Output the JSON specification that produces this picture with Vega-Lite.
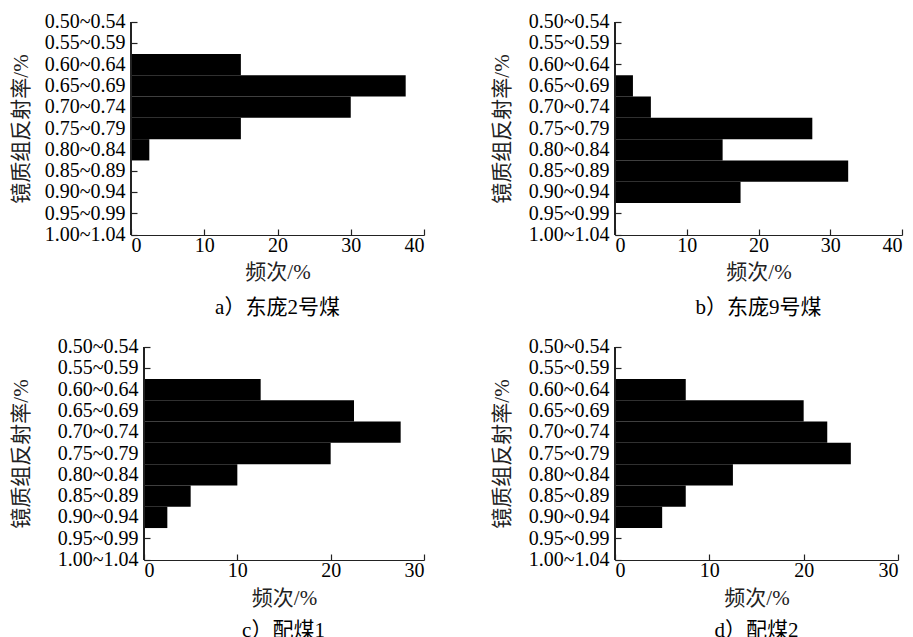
{
  "$schema": "https://vega.github.io/schema/vega-lite/v6.json",
  "background": "white",
  "padding": {"left": 10, "top": 11, "right": 5, "bottom": 5},
  "config": {
    "font": "Liberation Serif, Noto Sans CJK SC",
    "view": {"stroke": null},
    "axis": {
      "labelFont": "Liberation Serif, Noto Sans CJK SC",
      "titleFont": "Liberation Serif, Noto Sans CJK SC",
      "labelFontSize": 20,
      "titleFontSize": 21,
      "titleFontWeight": "normal",
      "labelColor": "#000",
      "titleColor": "#222",
      "domainColor": "#222",
      "tickColor": "#222",
      "domainWidth": 1.2,
      "tickWidth": 1.2,
      "grid": false,
      "labelOverlap": false
    },
    "title": {"font": "Liberation Serif, Noto Sans CJK SC", "fontSize": 21, "fontWeight": "normal", "color": "#000", "orient": "bottom", "anchor": "middle"}
  },
  "datasets": {
    "a": [
      {"range": "0.60~0.64", "freq": 15},
      {"range": "0.65~0.69", "freq": 37.5},
      {"range": "0.70~0.74", "freq": 30},
      {"range": "0.75~0.79", "freq": 15},
      {"range": "0.80~0.84", "freq": 2.5}
    ],
    "b": [
      {"range": "0.65~0.69", "freq": 2.5},
      {"range": "0.70~0.74", "freq": 5},
      {"range": "0.75~0.79", "freq": 27.5},
      {"range": "0.80~0.84", "freq": 15},
      {"range": "0.85~0.89", "freq": 32.5},
      {"range": "0.90~0.94", "freq": 17.5}
    ],
    "c": [
      {"range": "0.60~0.64", "freq": 12.5},
      {"range": "0.65~0.69", "freq": 22.5},
      {"range": "0.70~0.74", "freq": 27.5},
      {"range": "0.75~0.79", "freq": 20},
      {"range": "0.80~0.84", "freq": 10},
      {"range": "0.85~0.89", "freq": 5},
      {"range": "0.90~0.94", "freq": 2.5}
    ],
    "d": [
      {"range": "0.60~0.64", "freq": 7.5},
      {"range": "0.65~0.69", "freq": 20},
      {"range": "0.70~0.74", "freq": 22.5},
      {"range": "0.75~0.79", "freq": 25},
      {"range": "0.80~0.84", "freq": 12.5},
      {"range": "0.85~0.89", "freq": 7.5},
      {"range": "0.90~0.94", "freq": 5}
    ]
  },
  "columns": 2,
  "align": "none",
  "spacing": {"row": 18, "column": 66},
  "concat": [
    {
      "width": 293, "height": 213,
      "data": {"name": "a"},
      "title": {"text": "a）东庞2号煤", "offset": 15},
      "layer": [
        {
          "mark": {"type": "bar", "color": "#000"},
          "encoding": {
            "y": {"field": "range", "type": "nominal",
              "scale": {"domain": ["0.50~0.54","0.55~0.59","0.60~0.64","0.65~0.69","0.70~0.74","0.75~0.79","0.80~0.84","0.85~0.89","0.90~0.94","0.95~0.99","1.00~1.04"], "range": [-10.65, 223.65], "paddingInner": 0, "paddingOuter": 0},
              "axis": {"domain": false, "tickSize": -6, "labelPadding": 12, "title": "镜质组反射率/%", "titlePadding": 13}},
            "x": {"field": "freq", "type": "quantitative",
              "scale": {"domain": [0, 40], "nice": false},
              "axis": {"values": [0, 10, 20, 30, 40], "tickSize": -6, "labelPadding": 6, "title": "频次/%", "titlePadding": 6}}
          }
        },
        {"mark": {"type": "rule", "color": "#222", "strokeWidth": 1.2}, "encoding": {"x": {"datum": 0}}}
      ]
    },
    {
      "width": 287, "height": 213,
      "data": {"name": "b"},
      "title": {"text": "b）东庞9号煤", "offset": 15},
      "layer": [
        {
          "mark": {"type": "bar", "color": "#000"},
          "encoding": {
            "y": {"field": "range", "type": "nominal",
              "scale": {"domain": ["0.50~0.54","0.55~0.59","0.60~0.64","0.65~0.69","0.70~0.74","0.75~0.79","0.80~0.84","0.85~0.89","0.90~0.94","0.95~0.99","1.00~1.04"], "range": [-10.65, 223.65], "paddingInner": 0, "paddingOuter": 0},
              "axis": {"domain": false, "tickSize": -6, "labelPadding": 12, "title": "镜质组反射率/%", "titlePadding": 16}},
            "x": {"field": "freq", "type": "quantitative",
              "scale": {"domain": [0, 40], "nice": false},
              "axis": {"values": [0, 10, 20, 30, 40], "tickSize": -6, "labelPadding": 6, "title": "频次/%", "titlePadding": 6}}
          }
        },
        {"mark": {"type": "rule", "color": "#222", "strokeWidth": 1.2}, "encoding": {"x": {"datum": 0}}}
      ]
    },
    {
      "width": 293, "height": 213,
      "data": {"name": "c"},
      "title": {"text": "c）配煤1", "offset": 12, "dx": 6},
      "layer": [
        {
          "mark": {"type": "bar", "color": "#000"},
          "encoding": {
            "y": {"field": "range", "type": "nominal",
              "scale": {"domain": ["0.50~0.54","0.55~0.59","0.60~0.64","0.65~0.69","0.70~0.74","0.75~0.79","0.80~0.84","0.85~0.89","0.90~0.94","0.95~0.99","1.00~1.04"], "range": [-10.65, 223.65], "paddingInner": 0, "paddingOuter": 0},
              "axis": {"domain": false, "offset": -13, "tickSize": -6, "labelPadding": 12, "title": "镜质组反射率/%", "titlePadding": 26}},
            "x": {"field": "freq", "type": "quantitative",
              "scale": {"domain": [0, 30], "nice": false, "range": [13, 293]},
              "axis": {"values": [0, 10, 20, 30], "tickSize": -6, "labelPadding": 6, "title": "频次/%", "titlePadding": 7}}
          }
        },
        {"mark": {"type": "rule", "color": "#222", "strokeWidth": 1.2}, "encoding": {"x": {"datum": 0}}}
      ]
    },
    {
      "width": 283, "height": 213,
      "data": {"name": "d"},
      "title": {"text": "d）配煤2", "offset": 12},
      "layer": [
        {
          "mark": {"type": "bar", "color": "#000"},
          "encoding": {
            "y": {"field": "range", "type": "nominal",
              "scale": {"domain": ["0.50~0.54","0.55~0.59","0.60~0.64","0.65~0.69","0.70~0.74","0.75~0.79","0.80~0.84","0.85~0.89","0.90~0.94","0.95~0.99","1.00~1.04"], "range": [-10.65, 223.65], "paddingInner": 0, "paddingOuter": 0},
              "axis": {"domain": false, "tickSize": -6, "labelPadding": 12, "title": "镜质组反射率/%", "titlePadding": 16}},
            "x": {"field": "freq", "type": "quantitative",
              "scale": {"domain": [0, 30], "nice": false},
              "axis": {"values": [0, 10, 20, 30], "tickSize": -6, "labelPadding": 6, "title": "频次/%", "titlePadding": 7}}
          }
        },
        {"mark": {"type": "rule", "color": "#222", "strokeWidth": 1.2}, "encoding": {"x": {"datum": 0}}}
      ]
    }
  ]
}
